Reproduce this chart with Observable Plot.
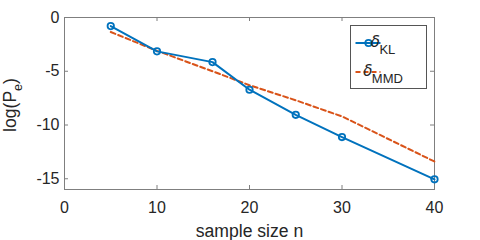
<!DOCTYPE html>
<html><head><meta charset="utf-8">
<script src="https://cdn.jsdelivr.net/npm/d3@7"></script>
<script src="https://cdn.jsdelivr.net/npm/@observablehq/plot@0.6"></script>
<style>
body{margin:0;background:#fff;}
#chart{position:relative;width:480px;height:240px;}
</style></head><body><div id="chart"></div>
<script>
const sampleSize = [5, 10, 16, 20, 25, 30, 40];
const logPeKL = [-0.8, -3.15, -4.15, -6.72, -9.05, -11.12, -15.05];
const logPeMMD = [-1.35, -3.1, -5.0, -6.3, -7.7, -9.2, -13.4];
const xTicks = [0, 10, 20, 30, 40];
const yTicks = [0, -5, -10, -15];
const seriesNames = ["KL", "MMD"];
const seriesColors = ["#0072BD", "#D95319"];
const xLabel = "sample size n";

const klData = sampleSize.map((n, i) => ({n, v: logPeKL[i]}));
const mmdData = sampleSize.map((n, i) => ({n, v: logPeMMD[i]}));

const W = 480, H = 240, mL = 64, mR = 46, mT = 17, mB = 51;
const plotH = H - mT - mB, plotW = W - mL - mR;
const tickLen = 4;
const axisColor = "#7f7f7f";
const textColor = "#262626";
const font = "'Liberation Sans', Arial, Helvetica, sans-serif";

const chart = Plot.plot({
  width: W, height: H, marginLeft: mL, marginRight: mR, marginTop: mT, marginBottom: mB,
  style: {fontFamily: font, fontSize: "16px", color: textColor, background: "white"},
  x: {domain: [0, 40]},
  y: {domain: [-16, 0]},
  marks: [
    Plot.frame({stroke: axisColor}),
    Plot.tickX(xTicks, {x: d => d, insetTop: plotH - tickLen, stroke: axisColor}),
    Plot.tickX(xTicks, {x: d => d, insetBottom: plotH - tickLen, stroke: axisColor}),
    Plot.tickY(yTicks, {y: d => d, insetRight: plotW - tickLen, stroke: axisColor}),
    Plot.tickY(yTicks, {y: d => d, insetLeft: plotW - tickLen, stroke: axisColor}),
    Plot.axisX(xTicks, {tickSize: 0, tickPadding: 12, label: null, fontSize: 16, fill: textColor}),
    Plot.axisY(yTicks, {tickSize: 0, tickPadding: 5, label: null, fontSize: 16, fill: textColor,
      tickFormat: d => d < 0 ? "-" + Math.abs(d) : String(d)}),
    Plot.text([xLabel], {text: d => d, frameAnchor: "bottom", lineAnchor: "bottom", dy: 47, fontSize: 17.6, fill: textColor}),
    Plot.line(mmdData, {x: "n", y: "v", stroke: seriesColors[1], strokeWidth: 2, strokeDasharray: "5,3"}),
    Plot.line(klData, {x: "n", y: "v", stroke: seriesColors[0], strokeWidth: 2}),
    Plot.dot(klData, {x: "n", y: "v", stroke: seriesColors[0], strokeWidth: 1.8, r: 3.2, fill: "none"})
  ]
});
document.getElementById("chart").appendChild(chart);

const svg = d3.select(chart);
// y-axis label with subscript
const yl = svg.append("text")
  .attr("transform", `translate(16,${mT + plotH / 2 + 2}) rotate(-90)`)
  .attr("text-anchor", "middle")
  .attr("fill", textColor)
  .style("font-family", font)
  .style("font-size", "17.6px");
yl.append("tspan").text("log(P");
yl.append("tspan").attr("dy", "0.5em").style("font-size", "12.5px").text("e");
yl.append("tspan").attr("dy", "-0.35em").text(")");

// legend
const lg = svg.append("g").attr("transform", "translate(350.5,25.5)");
lg.append("rect").attr("width", 76).attr("height", 63).attr("fill", "white").attr("stroke", "#555").attr("stroke-width", 1);
const rowsY = [17.5, 46.5];
seriesNames.forEach((name, i) => {
  const g = lg.append("g").attr("transform", `translate(0,${rowsY[i]})`);
  g.append("line").attr("x1", 5).attr("x2", 30).attr("stroke", seriesColors[i]).attr("stroke-width", 2)
    .attr("stroke-dasharray", i === 1 ? "5,3" : null);
  if (i === 0) g.append("circle").attr("cx", 18).attr("r", 3.2).attr("fill", "none").attr("stroke", seriesColors[i]).attr("stroke-width", 1.8);
  const t = g.append("text").attr("x", 32.5).attr("y", 4).attr("fill", textColor)
    .style("font-family", font).style("font-size", "13px");
  t.append("tspan").style("font-family", "'DejaVu Sans', sans-serif").style("font-style", "oblique").style("font-size", "15px").text("δ");
  t.append("tspan").attr("dy", 7).attr("dx", -0.5).text(name);
});
</script>
</body></html>
